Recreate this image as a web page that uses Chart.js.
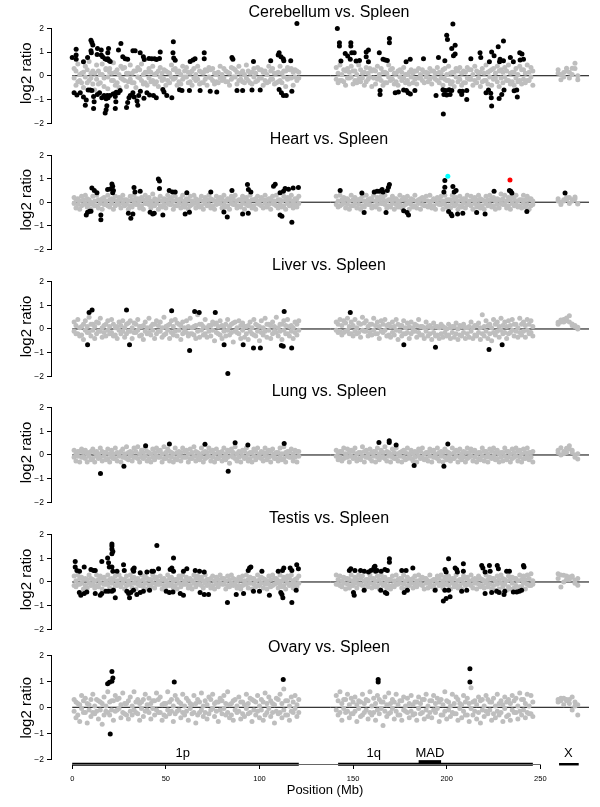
<!DOCTYPE html>
<html lang="en">
<head>
  <meta charset="UTF-8" />
  <title>log2 ratio vs. Spleen, chromosome 1 and X</title>
  <script src="https://cdn.jsdelivr.net/npm/chart.js"></script>
  <style>
    html, body { margin: 0; padding: 0; background: #fff; overflow: hidden; }
    #page { position: relative; width: 600px; height: 807px; overflow: hidden; background: #fff; }
    #page canvas { position: absolute; left: 0; }
  </style>
</head>
<body>
  <div id="page">
    <canvas id="c0" width="658" height="127" style="top:0px"></canvas>
    <canvas id="c1" width="658" height="127" style="top:126px"></canvas>
    <canvas id="c2" width="658" height="127" style="top:253px"></canvas>
    <canvas id="c3" width="658" height="127" style="top:379px"></canvas>
    <canvas id="c4" width="658" height="127" style="top:506px"></canvas>
    <canvas id="c5" width="658" height="175" style="top:632px"></canvas>
  </div>

  <script>
    // ---- data ----
    const panelTitles = ['Cerebellum vs. Spleen', 'Heart vs. Spleen', 'Liver vs. Spleen',
                         'Lung vs. Spleen', 'Testis vs. Spleen', 'Ovary vs. Spleen'];
    const yTicks = [-2, -1, 0, 1, 2];
    const xTicks = [0, 50, 100, 150, 200, 250];
    const zeroLineX = [0, 276];

    // chromosome segments (Mb)
    const segNames = ['1p', '1q', 'MAD', 'X'];
    const segStart = [0, 142, 185, 260];
    const segEnd = [121, 246, 197, 270.5];
    const segLabelAt = [59, 161, 191, 265];

    // probe positions (Mb)
    const pos1p = [1,2,3,4,5,6,7,8,9,10,11,12,13,14,15,16,17,18,19,20,21,22,23,24,25,26,27,28,29,30,
      31,32,33,34,35,36,37,38,39,40,41,42,43,44,45,46,47,48,49,50,51,52,53,54,55,56,57,58,59,60,
      61,62,63,64,65,66,67,68,69,70,71,72,73,74,75,76,77,78,79,80,81,82,83,84,85,86,87,88,89,90,
      91,92,93,94,95,96,97,98,99,100,101,102,103,104,105,106,107,108,109,110,111,112,113,114,115,
      116,117,118,119,120,121];
    const pos1q = [141,142,143,144,145,146,147,148,149,150,151,152,153,154,155,156,157,158,159,160,
      161,162,163,164,165,166,167,168,169,170,171,172,173,174,175,176,177,178,179,180,
      181,182,183,184,185,186,187,188,189,190,191,192,193,194,195,196,197,198,199,200,
      201,202,203,204,205,206,207,208,209,210,211,212,213,214,215,216,217,218,219,220,
      221,222,223,224,225,226,227,228,229,230,231,232,233,234,235,236,237,238,239,240,
      241,242,243,244,245,246];
    const posX = [259.5, 261, 262.5, 264, 265.5, 267, 268.5, 270];
    const probePos = pos1p.concat(pos1q, posX);

    // unchanged probes (gray): two readings per probe position (A and B)
    const cerebellumGrayA = [
      .3,-.4,.5,-.2,.1,-.5,.4,-.3,.6,-.1, .2,-.6,.45,-.35,.05,.5,-.45,.3,-.55,.15,
      -.2,.55,-.4,.25,-.5,.4,-.15,.35,-.45,.1, .45,-.3,.2,-.5,.35,-.1,.5,-.35,.15,-.4,
      .3,-.25,.4,-.35,.1,-.45,.35,-.2,.25,-.4, .15,-.3,.45,-.15,.3,-.4,.2,-.35,.4,-.05,
      .35,-.3,.1,-.4,.3,-.2,.4,-.35,.15,-.3, .25,-.4,.35,-.1,.3,-.35,.05,-.3,.4,-.2,
      .3,-.25,.15,-.4,.35,-.05,.25,-.35,.4,-.15, .2,-.3,.45,-.2,.1,-.35,.3,-.25,.35,-.1,
      .25,-.4,.2,-.3,.4,-.15,.3,-.35,.1,-.25, .4,-.3,.2,-.45,.35,-.1,.3,-.4,.25,-.2,.15,
      .35,-.3,.45,-.2,.25,-.4,.3,-.1,.4,-.35, .2,-.3,.45,-.25,.1,-.4,.35,-.15,.3,-.45,
      .25,-.35,.4,-.1,.3,-.4,.15,-.3,.45,-.2, .3,-.35,.1,-.4,.25,-.2,.35,-.3,.05,-.35,
      .25,-.3,.2,-.35,.3,-.1,.25,-.3,.15,-.25, .3,-.35,.2,-.15,.35,-.3,.1,-.4,.3,-.2,
      .4,-.35,.15,-.45,.3,-.25,.35,-.4,.2,-.3, .35,-.15,.25,-.4,.4,-.3,.1,-.45,.3,-.2,
      .45,-.35,.2,-.4,.3,-.1,.4,-.45,.25,-.3, .35,-.2,.45,-.35,.15,-.4,.3,-.25,.4,-.35,
      .25,-.3,.45,-.2,.35,-.4,
      .25,-.17,.14,.32,-.1,.32,.53,-.17];
    const cerebellumGrayB = [
      -.1,.2,-.25,.05,-.3,.15,-.05,.25,-.2,.1, -.35,.1,-.15,.2,-.3,.05,-.1,.25,-.05,.3,
      .1,-.2,.15,-.3,.05,-.1,.3,-.2,.1,-.25, -.15,.1,-.3,.2,-.05,.25,-.2,.05,-.3,.15,
      -.1,.15,-.2,.05,-.25,.2,-.05,.1,-.15,.2, -.2,.1,-.05,.25,-.1,.15,-.25,.05,-.15,.2,
      -.05,.15,-.25,.2,-.1,.05,-.15,.2,-.3,.1, -.15,.2,-.05,.25,-.2,.1,-.25,.15,-.1,.05,
      -.1,.2,-.25,.1,-.15,.3,-.05,.15,-.2,.1, -.25,.05,-.1,.2,-.3,.15,-.05,.1,-.2,.25,
      -.1,.15,-.2,.05,-.25,.2,-.15,.1,-.3,.15, -.2,.1,-.05,.2,-.15,.25,-.1,.15,-.05,.2,-.1,
      -.15,.1,-.2,.05,-.25,.2,-.1,.15,-.05,.2, -.2,.05,-.15,.25,-.1,.15,-.25,.1,-.05,.2,
      -.1,.2,-.15,.05,-.2,.15,-.3,.1,-.05,.25, -.15,.1,-.25,.2,-.05,.15,-.1,.05,-.2,.15,
      -.05,.1,-.15,.2,-.1,.05,-.2,.15,-.05,.1, -.15,.2,-.05,.1,-.2,.15,-.1,.25,-.15,.05,
      -.2,.1,-.25,.15,-.05,.2,-.15,.1,-.3,.15, -.1,.25,-.15,.05,-.2,.2,-.1,.15,-.25,.1,
      -.2,.15,-.05,.25,-.15,.1,-.25,.2,-.1,.15, -.05,.2,-.2,.1,-.25,.15,-.1,.05,-.2,.25,
      -.15,.1,-.2,.15,-.05,.2,
      .1,.05,-.05,.2,.15,.05,.3,0];
    const heartGrayA = [
      .2,-.25,.15,-.3,.25,-.1,.3,-.2,.1,-.3, .25,-.15,.3,-.25,.05,-.3,.2,-.1,.3,-.2,
      .15,-.3,.25,-.05,.2,-.25,.3,-.15,.1,-.3, .25,-.2,.3,-.1,.15,-.25,.2,-.3,.3,-.05,
      .2,-.25,.35,-.15,.1,-.3,.25,-.2,.15,-.25, .3,-.1,.2,-.3,.25,-.15,.1,-.25,.3,-.2,
      .15,-.3,.25,-.1,.3,-.25,.05,-.2,.25,-.3, .2,-.15,.3,-.25,.1,-.3,.25,-.05,.2,-.25,
      .3,-.2,.15,-.3,.25,-.1,.3,-.25,.1,-.2, .25,-.3,.2,-.15,.3,-.25,.1,-.3,.25,-.1,
      .2,-.25,.3,-.2,.15,-.3,.25,-.1,.3,-.25, .1,-.2,.25,-.3,.2,-.15,.3,-.25,.15,-.2,.25,
      .25,-.2,.3,-.1,.2,-.25,.15,-.3,.3,-.15, .2,-.25,.1,-.3,.25,-.2,.3,-.1,.15,-.25,
      .3,-.2,.2,-.3,.25,-.05,.3,-.25,.1,-.2, .25,-.3,.15,-.2,.3,-.25,.2,-.1,.25,-.3,
      .15,-.2,.3,-.25,.1,-.3,.2,-.15,.25,-.2, .3,-.25,.15,-.3,.2,-.1,.25,-.3,.3,-.2,
      .1,-.25,.3,-.15,.2,-.3,.25,-.2,.15,-.25, .3,-.1,.25,-.3,.2,-.2,.3,-.25,.1,-.3,
      .25,-.15,.3,-.2,.2,-.3,.15,-.25,.35,-.1, .3,-.25,.2,-.3,.25,-.15,.3,-.2,.1,-.25,
      .3,-.2,.25,-.3,.15,-.1,
      .15,-.1,.05,.2,-.05,.1,.22,-.08];
    const heartGrayB = [
      -.05,.1,-.1,.05,-.15,.1,-.05,.15,-.1,0, -.1,.05,-.15,.1,-.05,.15,-.1,.05,-.15,.1,
      -.05,.1,-.15,.05,-.1,.15,-.05,.1,-.1,.05, -.15,.1,-.05,.15,-.1,.05,-.15,.1,-.05,.15,
      -.1,.05,-.1,.15,-.05,.1,-.15,.05,-.1,.1, -.05,.15,-.1,.05,-.15,.1,-.05,.15,-.1,.05,
      -.1,.1,-.15,.05,-.05,.15,-.1,.1,-.15,.05, -.05,.1,-.1,.15,-.15,.05,-.1,.1,-.05,.15,
      -.1,.05,-.15,.1,-.05,.15,-.1,.05,-.15,.1, -.05,.15,-.1,.05,-.1,.1,-.15,.15,-.05,.05,
      -.15,.1,-.05,.1,-.1,.15,-.05,.05,-.15,.1, -.1,.05,-.15,.1,-.05,.15,-.1,.05,-.1,.15,-.05,
      -.1,.05,-.15,.1,-.05,.15,-.1,.05,-.15,.1, -.05,.1,-.1,.15,-.15,.05,-.05,.1,-.1,.15,
      -.15,.05,-.1,.1,-.05,.15,-.1,.05,-.15,.1, -.05,.15,-.1,.05,-.1,.1,-.15,.15,-.05,.05,
      -.1,.1,-.15,.05,-.05,.15,-.1,.1,-.15,.05, -.1,.05,-.15,.1,-.05,.15,-.1,.05,-.1,.1,
      -.15,.1,-.05,.15,-.1,.05,-.15,.1,-.05,.15, -.1,.05,-.15,.1,-.05,.1,-.1,.15,-.15,.05,
      -.05,.1,-.1,.15,-.15,.05,-.1,.1,-.05,.15, -.1,.05,-.15,.1,-.05,.15,-.1,.05,-.15,.1,
      -.05,.1,-.1,.15,-.15,.05,
      .05,0,.1,.1,.2,.05,.15,-.05];
    const liverGrayA = [
      .3,-.2,.4,-.3,.1,-.45,.35,-.15,.5,-.3, .2,-.4,.3,-.1,.45,-.35,.15,-.3,.35,-.2,
      .4,-.3,.05,-.4,.3,-.2,.35,-.35,.2,-.1, .35,-.4,.25,-.15,.4,-.3,.1,-.45,.3,-.2,
      .45,-.25,.2,-.4,.35,-.1,.3,-.35,.5,-.2, .15,-.4,.35,-.25,.4,-.3,.2,-.45,.3,-.1,
      .35,-.3,.45,-.2,.1,-.4,.6,-.35,.2,-.25, .4,-.35,.15,-.3,.3,-.5,.25,-.2,.35,-.4,
      .1,-.3,.4,-.25,.2,-.55,.3,-.15,.35,-.4, .25,-.35,.1,-.45,.3,-.2,.4,-.3,.15,-.5,
      .35,-.25,.45,-.35,.2,-.4,.3,-.1,.5,-.3, .2,-.45,.35,-.2,.4,-.3,.15,-.4,.3,-.25,.35,
      .3,-.15,.4,-.25,.35,-.1,.45,-.2,.3,-.3, .4,-.2,.25,-.35,.5,-.1,.35,-.3,.2,-.25,
      .45,-.2,.3,-.4,.35,-.15,.4,-.3,.2,-.35, .3,-.25,.4,-.45,.15,-.3,.35,-.2,.25,-.4,
      .3,-.1,.2,-.35,.4,-.25,.1,-.4,.3,-.3, .15,-.45,.25,-.3,.1,-.4,.2,-.35,.05,-.3,
      .2,-.4,.1,-.35,.25,-.45,.15,-.3,.2,-.4, .05,-.35,.3,-.4,.15,-.3,.25,-.45,.6,-.3,
      .35,-.4,.2,-.5,.4,-.25,.3,-.35,.45,-.2, .3,-.4,.35,-.15,.4,-.3,.2,-.35,.45,-.25,
      .3,-.35,.4,-.2,.35,-.3,
      .28,.38,.3,.46,.56,.21,.15,.07];
    const liverGrayB = [
      -.1,.15,-.2,.05,-.25,.2,-.05,.1,-.15,.2, -.05,.1,-.2,.25,-.1,.05,-.15,.2,-.05,.1,
      -.15,.2,-.25,.1,-.05,.15,-.1,.05,-.2,.25, -.1,.05,-.15,.2,-.05,.1,-.25,.15,-.1,.05,
      -.15,.1,-.05,.2,-.2,.15,-.1,.05,-.25,.1, -.05,.2,-.15,.1,-.1,.25,-.05,.15,-.2,.05,
      -.15,.1,-.2,.05,-.25,.15,-.1,.2,-.05,.1, -.2,.05,-.1,.15,-.05,.2,-.15,.1,-.25,.15,
      -.1,.2,-.05,.1,-.15,.25,-.1,.05,-.2,.15, -.05,.1,-.2,.15,-.1,.05,-.25,.2,-.1,.1,
      -.15,.05,-.1,.2,-.05,.15,-.2,.1,-.15,.05, -.1,.2,-.05,.15,-.2,.1,-.1,.05,-.15,.2,-.05,
      -.05,.2,-.1,.15,-.15,.25,-.05,.1,-.2,.15, -.1,.05,-.15,.2,-.05,.25,-.1,.1,-.15,.2,
      -.05,.15,-.2,.1,-.1,.2,-.05,.15,-.25,.1, -.15,.1,-.05,.2,-.1,.15,-.2,.05,-.15,.1,
      -.2,.05,-.1,.15,-.15,.1,-.25,.05,-.1,.1, -.2,.05,-.15,.1,-.25,.05,-.2,.1,-.15,0,
      -.25,.05,-.15,.1,-.2,0,-.25,.1,-.15,.05, -.2,.1,-.1,.05,-.25,.15,-.15,.05,-.2,.1,
      -.1,.15,-.2,.05,-.15,.2,-.1,.1,-.05,.15, -.15,.1,-.2,.15,-.05,.2,-.1,.05,-.15,.2,
      -.1,.15,-.05,.2,-.15,.1,
      .2,.3,.4,.35,.3,.15,.1,0];
    const lungGrayA = [
      .2,-.25,.15,-.3,.25,-.1,.2,-.3,.1,-.2, .25,-.3,.15,-.15,.3,-.25,.1,-.2,.25,-.3,
      .2,-.15,.3,-.25,.05,-.3,.25,-.1,.35,-.2, .15,-.25,.3,-.1,.35,-.3,.2,-.15,.3,-.25,
      .1,-.3,.25,-.2,.3,-.1,.2,-.3,.35,-.15, .25,-.25,.1,-.3,.3,-.2,.15,-.25,.3,-.1,
      .2,-.3,.25,-.15,.35,-.25,.1,-.2,.3,-.3, .15,-.1,.3,-.25,.2,-.3,.25,-.15,.1,-.25,
      .3,-.2,.2,-.35,.25,-.1,.35,-.25,.15,-.3, .2,-.15,.3,-.25,.1,-.3,.25,-.2,.3,-.1,
      .15,-.25,.3,-.2,.2,-.3,.25,-.15,.1,-.25, .3,-.2,.35,-.3,.15,-.1,.25,-.25,.2,-.3,.15,
      .2,-.2,.15,-.25,.3,-.1,.25,-.3,.2,-.15, .3,-.25,.1,-.2,.35,-.3,.2,-.1,.25,-.25,
      .15,-.3,.3,-.2,.2,-.1,.35,-.25,.1,-.3, .25,-.15,.3,-.25,.1,-.3,.2,-.2,.3,-.1,
      .2,-.25,.15,-.3,.25,-.15,.3,-.2,.1,-.25, .25,-.3,.2,-.1,.3,-.25,.15,-.3,.25,-.2,
      .1,-.25,.3,-.15,.2,-.3,.25,-.2,.15,-.3, .3,-.1,.25,-.25,.2,-.3,.1,-.2,.3,-.25,
      .15,-.3,.25,-.15,.3,-.2,.2,-.3,.1,-.25, .3,-.2,.15,-.3,.25,-.1,.3,-.25,.2,-.3,
      .25,-.15,.3,-.2,.1,-.3,
      .11,.31,.05,.28,.39,.2,0,-.17];
    const lungGrayB = [
      -.1,.05,-.05,.15,-.1,.1,-.15,.05,-.05,.15, -.15,.1,-.05,.05,-.1,.15,-.05,.1,-.15,.05,
      -.1,.05,-.15,.1,-.05,.15,-.1,.05,-.15,.1, -.05,.1,-.1,.15,-.15,.05,-.1,.1,-.05,.15,
      -.15,.05,-.1,.1,-.05,.15,-.1,.05,-.15,.1, -.05,.15,-.1,.05,-.15,.1,-.05,.1,-.1,.15,
      -.1,.05,-.15,.1,-.05,.15,-.1,.05,-.1,.1, -.15,.1,-.05,.15,-.1,.05,-.15,.1,-.05,.15,
      -.1,.05,-.1,.15,-.05,.1,-.15,.05,-.1,.1, -.05,.15,-.1,.05,-.15,.1,-.05,.15,-.1,.05,
      -.15,.1,-.05,.1,-.1,.15,-.05,.05,-.15,.1, -.1,.05,-.15,.1,-.05,.15,-.1,.05,-.1,.15,-.05,
      -.05,.1,-.1,.15,-.15,.05,-.1,.1,-.05,.15, -.1,.05,-.15,.1,-.05,.15,-.1,.05,-.15,.1,
      -.05,.15,-.1,.05,-.1,.1,-.15,.15,-.05,.05, -.1,.1,-.15,.05,-.05,.15,-.1,.1,-.15,.05,
      -.15,.05,-.1,.1,-.05,.15,-.1,.05,-.15,.1, -.05,.15,-.1,.05,-.15,.1,-.05,.1,-.1,.15,
      -.1,.05,-.15,.1,-.05,.15,-.1,.05,-.1,.1, -.15,.1,-.05,.15,-.1,.05,-.15,.1,-.05,.15,
      -.1,.05,-.1,.15,-.05,.1,-.15,.05,-.1,.1, -.05,.15,-.1,.05,-.15,.1,-.05,.15,-.1,.05,
      -.15,.1,-.05,.1,-.1,.15,
      .2,0,.15,.1,.25,.1,-.1,.05];
    const testisGrayA = [
      .25,-.2,.3,-.1,.2,-.3,.15,-.25,.3,-.15, .1,-.25,.3,-.2,.25,-.3,.2,-.1,.3,-.25,
      .15,-.3,.25,-.15,.3,-.2,.1,-.3,.25,-.1, .3,-.25,.2,-.3,.15,-.15,.3,-.2,.25,-.3,
      .1,-.2,.3,-.25,.2,-.1,.25,-.3,.15,-.2, .3,-.15,.2,-.25,.1,-.3,.25,-.2,.3,-.1,
      .2,-.25,.15,-.3,.3,-.2,.25,-.1,.2,-.25, .3,-.15,.1,-.25,.25,-.3,.2,-.2,.3,-.1,
      .15,-.3,.25,-.2,.3,-.15,.1,-.25,.2,-.3, .25,-.1,.3,-.25,.2,-.3,.15,-.2,.3,-.15,
      .2,-.25,.1,-.3,.25,-.2,.3,-.1,.15,-.25, .3,-.2,.2,-.3,.25,-.15,.3,-.25,.1,-.2,.25,
      .3,-.1,.25,-.2,.2,-.3,.15,-.25,.3,-.15, .2,-.25,.3,-.1,.25,-.3,.1,-.2,.3,-.25,
      .15,-.2,.25,-.3,.3,-.15,.2,-.25,.1,-.3, .25,-.2,.3,-.1,.15,-.25,.3,-.3,.2,-.15,
      .1,-.25,.25,-.2,.3,-.1,.2,-.3,.15,-.25, .3,-.2,.1,-.3,.25,-.15,.3,-.25,.2,-.1,
      .25,-.3,.15,-.2,.3,-.25,.1,-.3,.25,-.15, .2,-.1,.3,-.25,.15,-.3,.25,-.2,.1,-.25,
      .3,-.2,.2,-.3,.15,-.35,.25,-.3,.3,-.2, .1,-.35,.25,-.3,.2,-.25,.15,-.35,.3,-.2,
      .25,-.3,.3,-.15,.35,-.1,
      .35,-.21,.28,.11,.21,.25,.07,-.14];
    const testisGrayB = [
      -.15,.05,-.1,.15,-.05,.1,-.15,.1,-.05,.15, -.1,.05,-.15,.1,-.05,.15,-.1,.05,-.1,.1,
      -.05,.1,-.15,.05,-.1,.15,-.05,.1,-.15,.05, -.1,.15,-.05,.1,-.1,.05,-.15,.1,-.05,.15,
      -.15,.1,-.05,.15,-.1,.05,-.1,.1,-.15,.05, -.05,.15,-.1,.05,-.15,.1,-.05,.15,-.1,.05,
      -.1,.1,-.15,.05,-.05,.15,-.1,.1,-.15,.05, -.05,.1,-.1,.15,-.15,.05,-.1,.1,-.05,.15,
      -.1,.05,-.15,.1,-.05,.15,-.1,.05,-.15,.1, -.15,.05,-.1,.1,-.05,.15,-.1,.05,-.15,.1,
      -.05,.15,-.1,.05,-.1,.1,-.15,.15,-.05,.05, -.1,.05,-.15,.1,-.05,.15,-.1,.05,-.1,.15,-.05,
      -.1,.1,-.15,.05,-.05,.15,-.1,.1,-.15,.05, -.05,.1,-.1,.15,-.15,.05,-.1,.1,-.05,.15,
      -.1,.05,-.15,.1,-.05,.15,-.1,.05,-.15,.1, -.15,.05,-.1,.1,-.05,.15,-.1,.05,-.15,.1,
      -.05,.15,-.1,.05,-.1,.1,-.15,.15,-.05,.05, -.1,.05,-.15,.1,-.05,.15,-.1,.05,-.1,.1,
      -.15,.1,-.05,.15,-.1,.05,-.15,.1,-.05,.15, -.1,.05,-.15,.1,-.05,.1,-.1,.15,-.15,.05,
      -.05,.1,-.1,.15,-.15,.05,-.1,.1,-.05,.15, -.1,.05,-.2,.1,-.05,.15,-.15,.05,-.2,.1,
      -.05,.1,-.1,.15,-.15,.05,
      .15,.3,0,.25,.1,.2,-.05,.15];
    const ovaryGrayA = [
      .3,-.4,.15,-.55,.45,-.2,.35,-.6,.1,-.35, .5,-.25,.3,-.45,.2,-.65,.4,-.15,.6,-.3,
      .25,-.5,.45,-.1,.35,-.4,.55,-.25,.15,-.45, .4,-.3,.6,-.2,.3,-.5,.2,-.35,.5,-.1,
      .35,-.45,.25,-.3,.55,-.2,.4,-.5,.15,-.35, .6,-.25,.3,-.55,.45,-.15,.2,-.4,.5,-.3,
      .35,-.5,.15,-.25,.45,-.6,.3,-.2,.55,-.35, .25,-.45,.4,-.1,.5,-.35,.2,-.55,.35,-.25,
      .45,-.3,.6,-.4,.15,-.5,.3,-.2,.4,-.45, .2,-.35,.5,-.25,.35,-.55,.25,-.3,.45,-.4,
      .3,-.5,.55,-.2,.4,-.35,.15,-.6,.35,-.25, .5,-.4,.7,-.3,.25,-.5,.4,-.2,.45,-.35,.3,
      .45,-.3,.6,-.5,.3,-.2,.5,-.4,.35,-.25, .4,-.55,.25,-.35,.5,-.2,.3,-.45,.6,-.3,
      .35,-.5,.45,-.25,.2,-.7,.4,-.35,.55,-.2, .3,-.45,.5,-.3,.25,-.5,.4,-.15,.35,-.4,
      .45,-.3,.2,-.5,.4,-.25,.3,-.45,.5,-.35, .25,-.4,.45,-.2,.35,-.55,.3,-.3,.6,-.45,
      .2,-.35,.5,-.25,.4,-.5,.15,-.4,.45,-.3, .35,-.55,.75,-.3,.25,-.45,.4,-.6,.3,-.35,
      .45,-.25,.2,-.5,.35,-.4,.5,-.3,.25,-.55, .4,-.35,.3,-.5,.45,-.2,.35,-.45,.55,-.3,
      .3,-.4,.5,-.25,.45,-.35,
      .3,.25,.35,.3,.15,.4,.05,-.3];
    const ovaryGrayB = [
      -.15,.2,-.3,.1,-.05,.25,-.2,.15,-.1,.3, -.2,.05,-.15,.25,-.1,.15,-.3,.05,-.2,.2,
      -.1,.25,-.15,.3,-.05,.1,-.2,.15,-.3,.25, -.15,.05,-.1,.2,-.25,.15,-.05,.3,-.15,.1,
      -.2,.15,-.05,.25,-.1,.3,-.2,.1,-.3,.15, -.1,.2,-.15,.05,-.25,.3,-.1,.15,-.2,.05,
      -.15,.25,-.05,.1,-.2,.15,-.3,.2,-.1,.05, -.2,.1,-.25,.3,-.05,.15,-.15,.2,-.1,.25,
      -.05,.15,-.2,.1,-.3,.25,-.1,.05,-.15,.2, -.25,.1,-.05,.15,-.2,.3,-.1,.2,-.15,.05,
      -.1,.2,-.3,.15,-.05,.25,-.2,.1,-.15,.3, -.2,.15,-.1,.25,-.3,.05,-.15,.2,-.05,.1,-.2,
      -.1,.25,-.2,.15,-.05,.3,-.15,.1,-.25,.2, -.15,.1,-.05,.2,-.3,.15,-.1,.25,-.2,.05,
      -.2,.15,-.1,.3,-.05,.2,-.15,.1,-.25,.15, -.05,.2,-.15,.1,-.3,.25,-.1,.05,-.2,.15,
      -.15,.1,-.25,.2,-.05,.15,-.2,.3,-.1,.05, -.2,.25,-.1,.15,-.05,.2,-.3,.1,-.15,.25,
      -.1,.05,-.2,.15,-.25,.3,-.05,.1,-.15,.2, -.3,.15,-.05,.2,-.15,.1,-.2,.25,-.1,.05,
      -.15,.3,-.1,.2,-.25,.05,-.15,.15,-.2,.1, -.05,.2,-.3,.15,-.1,.25,-.2,.05,-.15,.3,
      -.1,.15,-.2,.05,-.25,.2,
      .2,.35,.1,.25,.3,-.1,.2,.1];

    // changed probes (black), [position Mb, log2 ratio]
    const cerebellumHits = [
      [0,.77],[2.1,1.12],[2.1,.87],[2.1,.69],[6,.59],[8.2,.77],[10,1.5],[10.5,1.4],[11,1.3],[10,1.05],
      [10.2,.97],[13.5,1.15],[13.3,.9],[15.5,.87],[16.2,.8],[17.5,.72],[18.3,.68],[19,.72],[19.6,.64],[20.3,.6],
      [15.5,1.08],[19.4,1.15],[19,.97],[24.7,1.08],[26,1.36],[27,.8],[28.3,.72],[29.6,.7],[32.4,1.05],[33.6,1.05],
      [36.3,.97],[38,.8],[38.5,.68],[41,.73],[42.5,.72],[44,.72],[45,.68],[47,1.0],[46.6,.73],[54,1.43],
      [53.8,.97],[54.2,.75],[55,.65],[63,.6],[64.5,.66],[65.6,.72],[70.5,.97],[70.5,.72],[85.3,.77],[85.8,.69],
      [96.8,.6],[106,.63],[110.5,.97],[110,.87],[111.5,.8],[112.7,.72],[113,.63],[116.7,.63],[120,2.2],
      [1,-.72],[2.5,-.81],[4.3,-.72],[6,-.9],[7,-1.24],[7.5,-1.02],[8.5,-.6],[9.6,-.6],[10.5,-.62],[11.4,-.88],
      [11.7,-1.1],[11.4,-1.38],[13.4,-.79],[14.6,-.72],[15.8,-.93],[17,-.83],[18.1,-.97],[18.7,-.83],[17.6,-1.57],[18.1,-1.43],
      [18.5,-1.26],[19.2,-.93],[20.1,-.83],[21.8,-.77],[23,-.74],[23.5,-.7],[23,-.88],[23.3,-1.1],[23,-1.38],[24.6,-.72],
      [25.6,-.62],[29,-1.34],[29.6,-1.13],[30.3,-.93],[31,-.83],[32.4,-.72],[33.1,-.9],[34.6,-1.06],[35,-1.24],[35.5,-.83],
      [36.4,-.65],[38.3,-.95],[39.9,-.72],[41.3,-.81],[43.4,-.83],[44.9,-.93],[48.4,-.58],[49,-.69],[50.5,-.83],[53.2,-.93],
      [57.3,-.59],[58.6,-.62],[62.6,-.62],[68.3,-.62],[73.7,-.65],[77.2,-.69],[88,-.62],[91,-.62],[96,-.6],[100.4,-.6],
      [110.5,-.58],[111.7,-.72],[112.8,-.83],[114.3,-.83],[117.3,-.65],
      [141.6,1.99],[142.7,1.39],[142.7,1.25],[143.5,.62],[145.8,.94],[147.1,.83],[148.5,.69],[148.8,1.39],[148.8,1.25],[149.3,.97],
      [150.6,.97],[151.6,.62],[153.4,.64],[157,1.0],[158.2,1.08],[157,.8],[158.2,.59],[164,.97],[166,.69],[167.2,.66],
      [168.3,.64],[169.4,1.57],[169.4,1.39],[178.3,.59],[180.5,.69],[187.6,.72],[195.6,.77],[199,.63],[200,1.71],[200.4,1.53],
      [203.3,2.18],[202.7,1.15],[204.5,1.29],[204.5,.92],[203.6,.84],[212.9,.72],[217.8,.97],[218.2,.77],[222.8,.59],[224,1.0],
      [225.3,.84],[227.5,1.22],[228.2,.59],[228.5,.69],[230.3,1.46],[230.3,.63],[234,.77],[235.6,.59],[239,.97],[240.2,.92],
      [241,.69],[239.2,.66],
      [164.4,-.62],[164.4,-.79],[172.5,-.72],[174.2,-.69],[177,-.6],[178.5,-.62],[179.4,-.72],[180.6,-.77],[183,-.62],[194.3,-.83],
      [198,-.59],[199.5,-.62],[201.3,-.59],[202.7,-.62],[198.5,-.79],[200,-.81],[201.8,-.79],[198.2,-1.61],[207,-.65],[208.4,-.65],
      [210.7,-.62],[208,-.79],[210.7,-1.0],[221,-.72],[222.3,-.6],[223.5,-.74],[223.8,-.93],[224,-1.27],[228,-.96],[229.4,-.79],
      [230.6,-.6],[236,-.63],[237.4,-.6],[237.7,-.9]];
    const heartHits = [
      [10.5,.6],[11.8,.5],[13.2,.4],[18.9,.54],[20.3,.56],[21.2,.78],[21.6,.68],[22,.5],[21.6,.4],[33,.63],
      [33.5,.43],[36.3,.47],[46,.99],[46.6,.9],[46.6,.58],[51.8,.5],[53.6,.43],[55,.43],[61.2,.4],[74,.43],
      [85.3,.5],[93.6,.75],[94.1,.54],[95.4,.43],[107.5,.68],[108.4,.76],[111,.4],[112.8,.47],[113.7,.58],[115.5,.55],
      [118,.6],[120.8,.63],
      [7.5,-.54],[8.2,-.43],[9.3,-.38],[10,-.38],[15.3,-.54],[15.3,-.75],[30,-.47],[31.3,-.68],[32.4,-.5],[41.6,-.43],
      [43,-.5],[43.8,-.47],[48.4,-.54],[60.3,-.5],[62.6,-.43],[81,-.42],[82.8,-.63],[91,-.5],[94,-.47],[111,-.54],
      [112,-.6],[117.3,-.85],
      [143.1,.5],[154.7,.39],[161.3,.43],[162.8,.47],[164.2,.47],[165.5,.54],[166,.43],[168.3,.5],[168.9,.64],[169.4,.75],
      [199,.92],[199,.64],[198.5,.43],[203.3,.67],[205,.5],[204,.43],[225.3,.47],[233.5,.5],[234.2,.47],[234.8,.39],
      [263.2,.39],
      [155.9,-.44],[167.6,-.44],[177,-.36],[178.8,-.44],[179.6,-.54],[201,-.4],[202.3,-.5],[202.8,-.58],[205.8,-.5],[208.6,-.47],
      [216,-.44],[220.5,-.5],[242.8,-.4]];
    const heartCyan = [[200.6, 1.1]];
    const heartRed = [[233.8, .95]];
    const liverHits = [
      [9,.7],[10.6,.8],[29,.8],[53.1,.77],[65.4,.74],[67.8,.7],[76.4,.7],[113.2,.74],[148.5,.7],
      [8.2,-.67],[30.6,-.67],[62.7,-.91],[81.1,-.67],[83.1,-1.89],[91.3,-.67],[96.8,-.8],[100.5,-.81],
      [111.7,-.7],[112.7,-.73],[117.2,-.8],[177.1,-.67],[194,-.77],[222.6,-.87],[229.6,-.67]];
    const lungHits = [
      [39.2,.39],[51.9,.46],[70.9,.45],[87,.52],[93.8,.42],[113.2,.49],[163.8,.53],[169.3,.6],[169.3,.53],
      [173,.42],[200.6,.46],[15.1,-.78],[27.6,-.48],[83.3,-.69],[182.6,-.45],[198.5,-.48]];
    const testisHits = [
      [1.6,.87],[1.6,.63],[2.5,.49],[3.9,.45],[6.4,.63],[10,.53],[11.4,.49],[12.3,.49],[15.8,.87],[18.9,1.01],
      [19.4,.81],[21.2,1.61],[21.2,1.52],[21.2,1.4],[21.7,1.29],[21.2,1.19],[19.8,.63],[21.2,.63],[21.7,.45],[23.9,.45],
      [27.4,.73],[27.8,.49],[32.4,.53],[33.1,.59],[32.8,.45],[36.3,.39],[39.9,.42],[42.5,.45],[43.4,.45],[45.2,1.54],
      [46.1,.56],[52.3,.53],[53.2,.59],[54.1,1.01],[54.1,.45],[59.4,.45],[61.2,.56],[65.7,.49],[68,.45],[70.5,.42],
      [94,.49],[94.7,.59],[95.4,.63],[101.3,.45],[110,.45],[112.3,.49],[113,.59],[116.4,.59],[117.3,.49],[119.9,.73],
      [120.8,.56],
      [3.8,-.45],[4.6,-.56],[6.4,-.49],[7.8,-.42],[12.3,-.49],[15,-.56],[15.8,-.49],[18,-.39],[19.4,-.39],[21.2,-.39],
      [22,-.35],[23,-.67],[29.2,-.39],[30.1,-.49],[30.6,-.67],[31.3,-.45],[32.7,-.35],[34.5,-.53],[36.3,-.45],[38,-.39],
      [41.3,-.35],[50.2,-.39],[51.9,-.45],[53.8,-.42],[57.7,-.49],[59.4,-.56],[68.3,-.45],[70.5,-.53],[72.8,-.53],[82.9,-.87],
      [87.6,-.53],[91.5,-.49],[96.8,-.39],[100,-.39],[105.3,-.56],[111.4,-.45],[112,-.53],[112.5,-.67],[117.3,-.87],[119.6,-.35],
      [148,.49],[148.8,.56],[151,.49],[154,.49],[156,.45],[158.2,.42],[159.5,.49],[161,.56],[162,.45],[162.8,.49],
      [165,.45],[161.3,.63],[161.7,.67],[167,.53],[168.3,.49],[169.4,.98],[169.4,.84],[176,.49],[178.3,.49],[181.9,.59],
      [199.1,.53],[199.7,.42],[201,.98],[204.5,.59],[205.3,.53],[205.7,.42],[208.9,.77],[208.9,.45],[218.7,.7],[219.3,.59],
      [220.5,.42],[222.8,.7],[223.2,.45],[227,.7],[227.6,.56],[232,.45],[233.5,.45],[241,.7],[241.3,.63],
      [150.2,-.45],[150.6,-.56],[155.9,-.35],[164.8,-.35],[167.2,-.45],[168,-.49],[177.3,-.45],[179,-.35],[193.8,-.35],[198.2,-.81],
      [199.7,-.7],[201.8,-.63],[199,-.35],[201,-.35],[208,-.39],[210.7,-.35],[220.5,-.49],[224,-.45],[226.7,-.39],[228,-.45],
      [230.6,-.53],[231,-.39],[235.6,-.42],[237.4,-.42],[238.8,-.39],[240,-.35]];
    const ovaryHits = [
      [18.9,.91],[19.9,.96],[21.2,1.38],[21.7,1.13],[21.2,1.0],[20.3,-1.03],[54.5,.97],[112.7,1.07],
      [163.4,1.07],[163.4,.97],[212.4,1.48],[212.4,.97]];

    const grayA = [cerebellumGrayA, heartGrayA, liverGrayA, lungGrayA, testisGrayA, ovaryGrayA];
    const grayB = [cerebellumGrayB, heartGrayB, liverGrayB, lungGrayB, testisGrayB, ovaryGrayB];
    const hitVals = [cerebellumHits, heartHits, liverHits, lungHits, testisHits, ovaryHits];

    // ---- layout / style ----
    const FONT = "'Liberation Sans', Arial, Helvetica, sans-serif";
    Chart.defaults.font.family = FONT;
    Chart.defaults.color = '#000';
    const yRange = [[-2.16, 2.37], [-2.16, 2.37], [-2.16, 2.37], [-2.16, 2.37], [-2.16, 2.37], [-2.22, 2.185]];
    const titleBox = [
      { lh: 0.875, top: 5.5 }, { lh: 0.875, top: 6.5 }, { lh: 0.875, top: 6 },
      { lh: 0.875, top: 6 }, { lh: 0.875, top: 6 }, { lh: 0.375, top: 12.5 }];
    const barLevel = -2.19;
    const madLevel = -2.12;
    const labelLevel = -1.78;
    const GRAY = '#bebebe';
    const DOT = 2.5;

    const toPts = arr => arr.map(p => ({ x: p[0], y: p[1] }));

    // R-style axis lines: y from first to last tick, x (bottom panel) from 0 to 250
    const rAxes = {
      id: 'rAxes',
      afterDraw(chart) {
        const { ctx, chartArea: a, scales: { x, y } } = chart;
        ctx.save();
        ctx.strokeStyle = '#000';
        ctx.lineWidth = 1;
        ctx.beginPath();
        const ax = Math.round(a.left) - 0.5;
        ctx.moveTo(ax, y.getPixelForValue(yTicks[yTicks.length - 1]));
        ctx.lineTo(ax, y.getPixelForValue(yTicks[0]));
        ctx.stroke();
        if (x.options.display) {
          const by = Math.round(a.bottom) - 0.5;
          ctx.strokeStyle = '#666';
          ctx.beginPath();
          ctx.moveTo(x.getPixelForValue(xTicks[0]), by);
          ctx.lineTo(x.getPixelForValue(xTicks[xTicks.length - 1]) + 0.5, by);
          ctx.stroke();
        }
        ctx.restore();
      }
    };

    const segmentLabels = {
      id: 'segmentLabels',
      afterDatasetsDraw(chart) {
        if (!chart.scales.x.options.display) return;
        const { ctx, scales: { x, y } } = chart;
        ctx.save();
        ctx.font = '13px ' + FONT;
        ctx.fillStyle = '#000';
        ctx.textAlign = 'center';
        ctx.textBaseline = 'middle';
        segNames.forEach((t, k) => ctx.fillText(t, x.getPixelForValue(segLabelAt[k]), y.getPixelForValue(labelLevel)));
        ctx.restore();
      }
    };

    function buildPanel(i) {
      const last = i === panelTitles.length - 1;
      const datasets = [
        { data: zeroLineX.map(x => ({ x, y: 0 })), showLine: true, borderColor: '#000', borderWidth: 1,
          pointRadius: 0, order: 10 },
        { data: probePos.map((x, k) => ({ x, y: grayA[i][k] })), backgroundColor: GRAY,
          borderWidth: 0, pointRadius: DOT, order: 5 },
        { data: probePos.map((x, k) => ({ x, y: grayB[i][k] })), backgroundColor: GRAY,
          borderWidth: 0, pointRadius: DOT, order: 5 },
        { data: toPts(hitVals[i]), backgroundColor: '#000', borderWidth: 0, pointRadius: DOT, order: 2 }
      ];
      if (i === 1) {
        datasets.push({ data: toPts(heartCyan), backgroundColor: '#00ffff', borderWidth: 0, pointRadius: DOT, order: 1 });
        datasets.push({ data: toPts(heartRed), backgroundColor: '#ff0000', borderWidth: 0, pointRadius: DOT, order: 1 });
      }
      if (last) {
        segNames.forEach((name, k) => {
          const lvl = name === 'MAD' ? madLevel : barLevel;
          datasets.push({
            data: [{ x: segStart[k], y: lvl }, { x: segEnd[k], y: lvl }],
            showLine: true, borderColor: '#000', borderWidth: name === 'MAD' ? 4.5 : (name === 'X' ? 2.5 : 3),
            pointRadius: 0, order: 0
          });
        });
      }
      datasets.forEach(d => { d.clip = false; });

      new Chart(document.getElementById('c' + i), {
        type: 'scatter',
        data: { datasets },
        plugins: [rAxes, segmentLabels],
        options: {
          responsive: false,
          animation: false,
          devicePixelRatio: 1,
          events: [],
          layout: { padding: 0, autoPadding: false },
          plugins: {
            legend: { display: false },
            tooltip: { enabled: false },
            title: {
              display: true,
              text: panelTitles[i],
              color: '#000',
              font: { size: 16, weight: 'normal', lineHeight: titleBox[i].lh },
              padding: { top: titleBox[i].top, bottom: 0 }
            }
          },
          scales: {
            x: {
              type: 'linear', min: -10.8, max: 280.8, display: last,
              afterBuildTicks: s => { s.ticks = xTicks.map(v => ({ value: v })); },
              afterFit: s => { if (last) s.height = 42; s.paddingLeft = 0; s.paddingRight = 0; },
              border: { display: false },
              grid: { drawOnChartArea: false, drawTicks: true, tickLength: 4, tickColor: '#000' },
              ticks: { padding: 5, font: { size: 7.5 }, color: '#000', maxRotation: 0, autoSkip: false },
              title: { display: true, text: 'Position (Mb)', color: '#000', font: { size: 13 },
                       padding: { top: 0, bottom: 8.5 } }
            },
            y: {
              type: 'linear', min: yRange[i][0], max: yRange[i][1],
              afterBuildTicks: s => { s.ticks = yTicks.map(v => ({ value: v })); },
              afterFit: s => { s.width = 52; s.paddingTop = 0; s.paddingBottom = 0; },
              border: { display: false },
              grid: { drawOnChartArea: false, drawTicks: true, tickLength: 5, tickColor: '#000' },
              ticks: { padding: 3, font: { size: 8.5 }, color: '#000',
                       callback: v => (v < 0 ? '\u2212' + (-v) : String(v)) },
              title: { display: true, text: 'log2 ratio', color: '#000', font: { size: 15 },
                       padding: { top: 18, bottom: 0 } }
            },
            pad: {
              type: 'linear', axis: 'y', position: 'right', display: true,
              grid: { display: false }, border: { display: false }, ticks: { display: false },
              afterFit: s => { s.width = 60; s.paddingTop = 0; s.paddingBottom = 0; }
            }
          }
        }
      });
    }

    panelTitles.forEach((t, i) => buildPanel(i));
  </script>
</body>
</html>
